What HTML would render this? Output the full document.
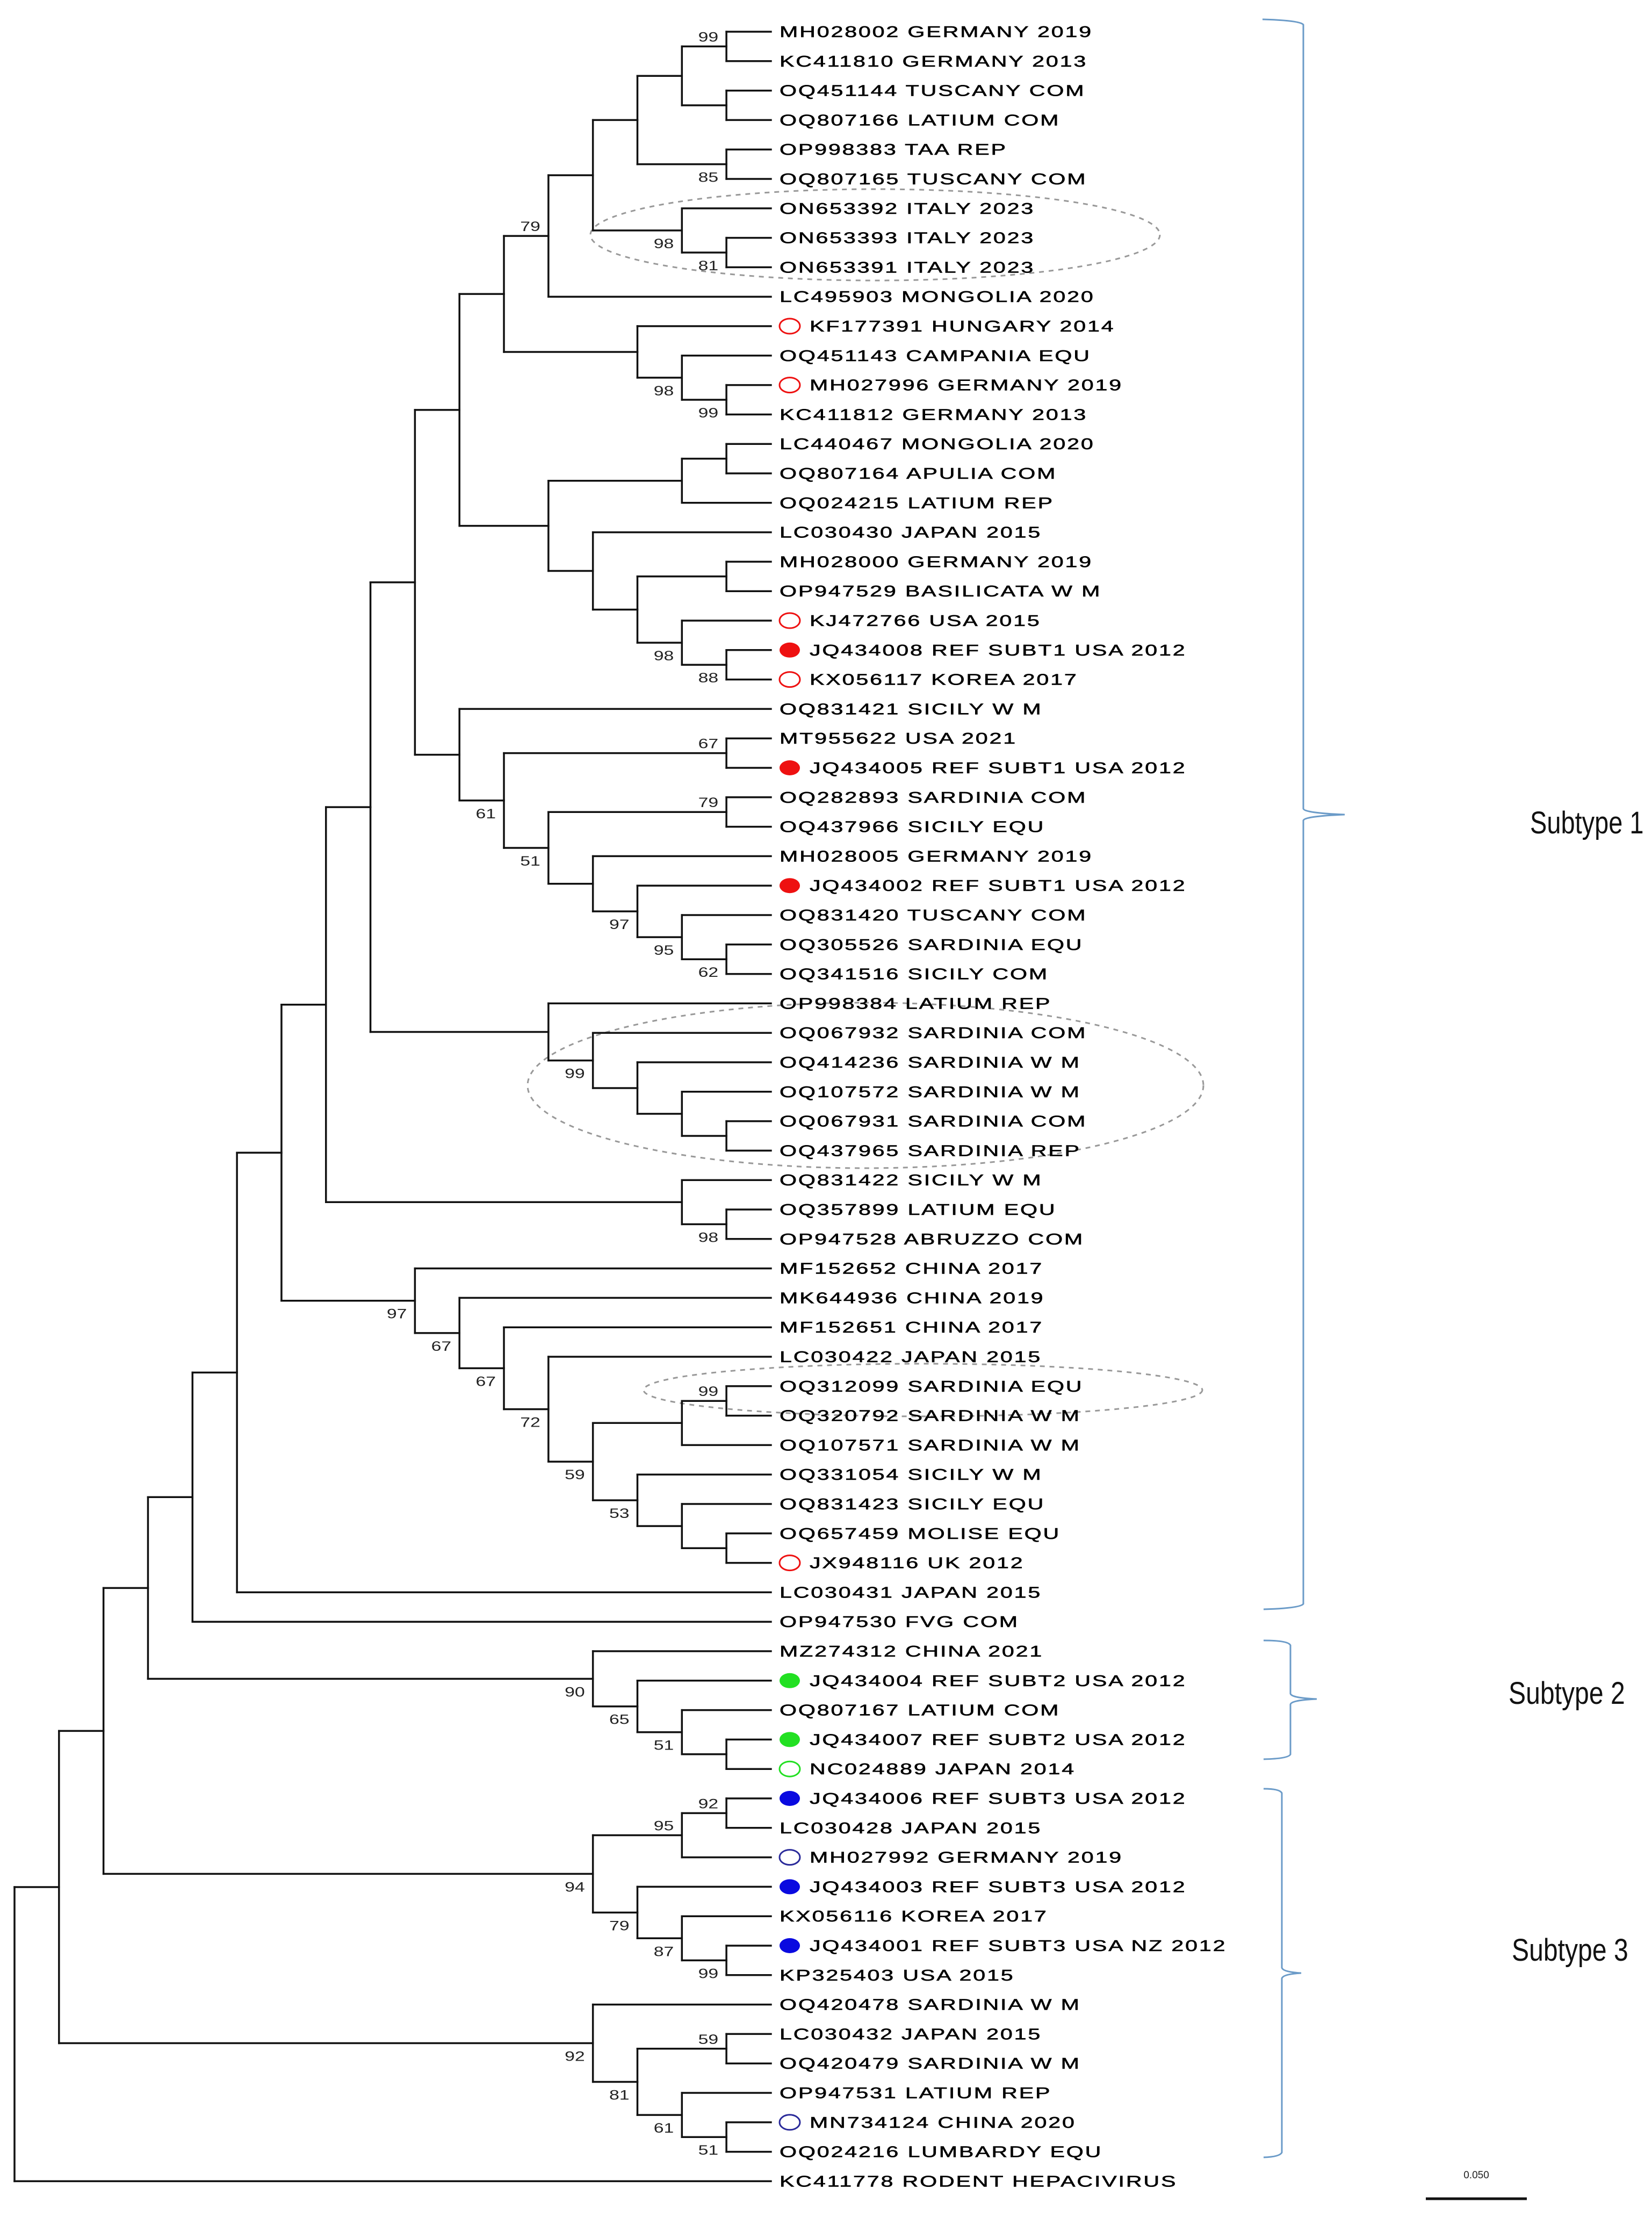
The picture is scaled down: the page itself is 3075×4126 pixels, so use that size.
<!DOCTYPE html>
<html>
<head>
<meta charset="utf-8">
<style>
  html,body{margin:0;padding:0;background:#fff;}
  svg{display:block;}
  .leaf{font-family:"Liberation Sans",Arial,sans-serif;font-size:29px;letter-spacing:2px;fill:#000;stroke:#000;stroke-width:0.6px;}
  .boot{font-family:"Liberation Sans",Arial,sans-serif;font-size:25px;fill:#222;}
  .sub{font-family:"Liberation Sans",Arial,sans-serif;font-size:58px;fill:#111;}
</style>
</head>
<body>
<svg id="tree" width="3075" height="4126" viewBox="0 0 3075 4126" xmlns="http://www.w3.org/2000/svg">
  <g id="ellipses" fill="none" stroke="#999" stroke-width="3" stroke-dasharray="9,9">
    <ellipse cx="1629" cy="437" rx="530" ry="85"/>
    <ellipse cx="1611" cy="2020" rx="629" ry="154"/>
    <ellipse cx="1718" cy="2587" rx="520" ry="49"/>
  </g>
  <g id="branches" stroke="#111" stroke-width="3.5" fill="none" stroke-linecap="square"></g>
  <g id="boots"></g>
  <g id="leaves"></g>
  <g fill="none" stroke="#6b9bc8" stroke-width="3">
    <path d="M2350 36 Q2420 38 2426 46 L2426 1505 Q2428 1513 2503 1516 Q2428 1519 2426 1527 L2426 2985 Q2420 2993 2352 2995"/>
    <path d="M2352 3053 Q2398 3053 2402 3062 L2402 3152 Q2404 3160 2451 3162 Q2404 3164 2402 3172 L2402 3265 Q2398 3273 2352 3274"/>
    <path d="M2352 3329 Q2382 3329 2386 3337 L2386 3662 Q2388 3670 2422 3672 Q2388 3674 2386 3682 L2386 4006 Q2382 4014 2352 4015"/>
  </g>
  <text class="sub" x="2848" y="1551" transform="translate(2848 0) scale(0.81 1) translate(-2848 0)">Subtype 1</text>
  <text class="sub" x="2808" y="3171" transform="translate(2808 0) scale(0.83 1) translate(-2808 0)">Subtype 2</text>
  <text class="sub" x="2814" y="3649" transform="translate(2814 0) scale(0.83 1) translate(-2814 0)">Subtype 3</text>
  <text x="2748" y="4054" text-anchor="middle" font-family="Liberation Sans, Arial, sans-serif" font-size="19" fill="#222">0.050</text>
  <line x1="2654" y1="4092" x2="2842" y2="4092" stroke="#111" stroke-width="5"/>
</svg>
<script>
const leafNames = [
 "MH028002 GERMANY 2019","KC411810 GERMANY 2013","OQ451144 TUSCANY COM","OQ807166 LATIUM COM",
 "OP998383 TAA REP","OQ807165 TUSCANY COM","ON653392 ITALY 2023","ON653393 ITALY 2023",
 "ON653391 ITALY 2023","LC495903 MONGOLIA 2020","KF177391 HUNGARY 2014","OQ451143 CAMPANIA EQU",
 "MH027996 GERMANY 2019","KC411812 GERMANY 2013","LC440467 MONGOLIA 2020","OQ807164 APULIA COM",
 "OQ024215 LATIUM REP","LC030430 JAPAN 2015","MH028000 GERMANY 2019","OP947529 BASILICATA W M",
 "KJ472766 USA 2015","JQ434008 REF SUBT1 USA 2012","KX056117 KOREA 2017","OQ831421 SICILY W M",
 "MT955622 USA 2021","JQ434005 REF SUBT1 USA 2012","OQ282893 SARDINIA COM","OQ437966 SICILY EQU",
 "MH028005 GERMANY 2019","JQ434002 REF SUBT1 USA 2012","OQ831420 TUSCANY COM","OQ305526 SARDINIA EQU",
 "OQ341516 SICILY COM","OP998384 LATIUM REP","OQ067932 SARDINIA COM","OQ414236 SARDINIA W M",
 "OQ107572 SARDINIA W M","OQ067931 SARDINIA COM","OQ437965 SARDINIA REP","OQ831422 SICILY W M",
 "OQ357899 LATIUM EQU","OP947528 ABRUZZO COM","MF152652 CHINA 2017","MK644936 CHINA 2019",
 "MF152651 CHINA 2017","LC030422 JAPAN 2015","OQ312099 SARDINIA EQU","OQ320792 SARDINIA W M",
 "OQ107571 SARDINIA W M","OQ331054 SICILY W M","OQ831423 SICILY EQU","OQ657459 MOLISE EQU",
 "JX948116 UK 2012","LC030431 JAPAN 2015","OP947530 FVG COM","MZ274312 CHINA 2021",
 "JQ434004 REF SUBT2 USA 2012","OQ807167 LATIUM COM","JQ434007 REF SUBT2 USA 2012","NC024889 JAPAN 2014",
 "JQ434006 REF SUBT3 USA 2012","LC030428 JAPAN 2015","MH027992 GERMANY 2019","JQ434003 REF SUBT3 USA 2012",
 "KX056116 KOREA 2017","JQ434001 REF SUBT3 USA NZ 2012","KP325403 USA 2015","OQ420478 SARDINIA W M",
 "LC030432 JAPAN 2015","OQ420479 SARDINIA W M","OP947531 LATIUM REP","MN734124 CHINA 2020",
 "OQ024216 LUMBARDY EQU","KC411778 RODENT HEPACIVIRUS"
];
const markerLeaves = [11,13,21,22,23,26,30,53,57,59,60,61,63,64,66,72];
const markerTypes  = ["ro","ro","ro","rf","ro","rf","rf","ro","gf","gf","go","bf","bo","bf","bf","bo"];
const markerColors = {r:"#ee1111", g:"#22e022", b:"#0a0ae0"};

function N(level, support, ...children){ return {level, support, children}; }
const root = N(0,'',
  N(1,'',
    N(2,'',
      N(3,'',
        N(4,'',
          N(5,'',
            N(6,'',
              N(7,'',
                N(8,'',
                  N(9,'',
                    N(10,'',
                      N(11,'',
                        N(12,'79',
                          N(13,'',
                            N(14,'',
                              N(15,'', N(16,'99',1,2), N(16,'',3,4)),
                              N(16,'85',5,6)),
                            N(15,'98', 7, N(16,'81',8,9))),
                          10),
                        N(14,'', 11, N(15,'98', 12, N(16,'99',13,14)))),
                      N(12,'',
                        N(15,'', N(16,'',15,16), 17),
                        N(13,'', 18, N(14,'', N(16,'',19,20), N(15,'98',21, N(16,'88',22,23)))))),
                    N(10,'', 24, N(11,'61', N(16,'67',25,26), N(12,'51', N(16,'79',27,28), N(13,'', 29, N(14,'97', 30, N(15,'95', 31, N(16,'62',32,33)))))))),
                  N(12,'', 34, N(13,'99', 35, N(14,'', 36, N(15,'', 37, N(16,'',38,39)))))),
                N(15,'', 40, N(16,'98',41,42))),
              N(9,'97', 43, N(10,'67', 44, N(11,'67', 45, N(12,'72', 46, N(13,'59', N(15,'', N(16,'99',47,48), 49), N(14,'53', 50, N(15,'', 51, N(16,'',52,53))))))))),
            54),
          55),
        N(13,'90', 56, N(14,'65', 57, N(15,'51', 58, N(16,'',59,60))))),
      N(13,'94', N(15,'95', N(16,'92',61,62), 63), N(14,'79', 64, N(15,'87', 65, N(16,'99',66,67))))),
    N(13,'92', 68, N(14,'81', N(16,'59',69,70), N(15,'61', 71, N(16,'51',72,73))))),
  74);

const NS = "http://www.w3.org/2000/svg";
const X0 = 27, DX = 82.82, TIPLEVEL = 17, Y0 = 59, DY = 54.8;
const xOf = lvl => X0 + lvl*DX;
const yOfLeaf = i => Y0 + (i-1)*DY;
const gB = document.getElementById('branches');
const gS = document.getElementById('boots');
const gL = document.getElementById('leaves');

function line(x1,y1,x2,y2){
  const l = document.createElementNS(NS,'line');
  l.setAttribute('x1',x1); l.setAttribute('y1',y1); l.setAttribute('x2',x2); l.setAttribute('y2',y2);
  
  
  gB.appendChild(l);
}
function layout(n){
  if (typeof n === 'number') return {x:xOf(TIPLEVEL), y:yOfLeaf(n)};
  const pts = n.children.map(layout);
  const x = xOf(n.level);
  const y = (pts[0].y + pts[pts.length-1].y)/2;
  line(x, pts[0].y, x, pts[pts.length-1].y);
  pts.forEach((p, idx) => {
    line(x, p.y, p.x, p.y);
    const c = n.children[idx];
    if (typeof c !== 'number' && c.support) {
      const t = document.createElementNS(NS,'text');
      t.setAttribute('class','boot');
      const rx = p.x - 15;
      t.setAttribute('x', rx);
      t.setAttribute('y', idx === 0 ? p.y - 9 : p.y + 33);
      t.setAttribute('text-anchor','end');
      t.setAttribute('transform', `translate(${rx} 0) scale(1.35 1) translate(${-rx} 0)`);
      t.textContent = c.support;
      
      
      gS.appendChild(t);
    }
  });
  return {x, y};
}
layout(root);

leafNames.forEach((name, k) => {
  const i = k + 1;
  const y = yOfLeaf(i);
  const mi = markerLeaves.indexOf(i);
  let tx = 1451;
  if (mi >= 0) {
    const type = markerTypes[mi];
    const col = markerColors[type[0]];
    const e = document.createElementNS(NS,'ellipse');
    e.setAttribute('cx', 1470); e.setAttribute('cy', y); e.setAttribute('rx', 19); e.setAttribute('ry', 14);
    if (type[1] === 'f') { e.setAttribute('fill', col); }
    else { e.setAttribute('fill','none'); e.setAttribute('stroke', type[0]==='b' ? '#2a2a9a' : col); e.setAttribute('stroke-width', 3); }
    
    
    gL.appendChild(e);
    tx = 1507;
  }
  const t = document.createElementNS(NS,'text');
  t.setAttribute('class','leaf');
  t.setAttribute('x', tx);
  t.setAttribute('y', y + 10);
  t.setAttribute('transform', `translate(${tx} 0) scale(1.42 1) translate(${-tx} 0)`);
  t.textContent = name;
  
  
  gL.appendChild(t);
});
</script>
</body>
</html>
